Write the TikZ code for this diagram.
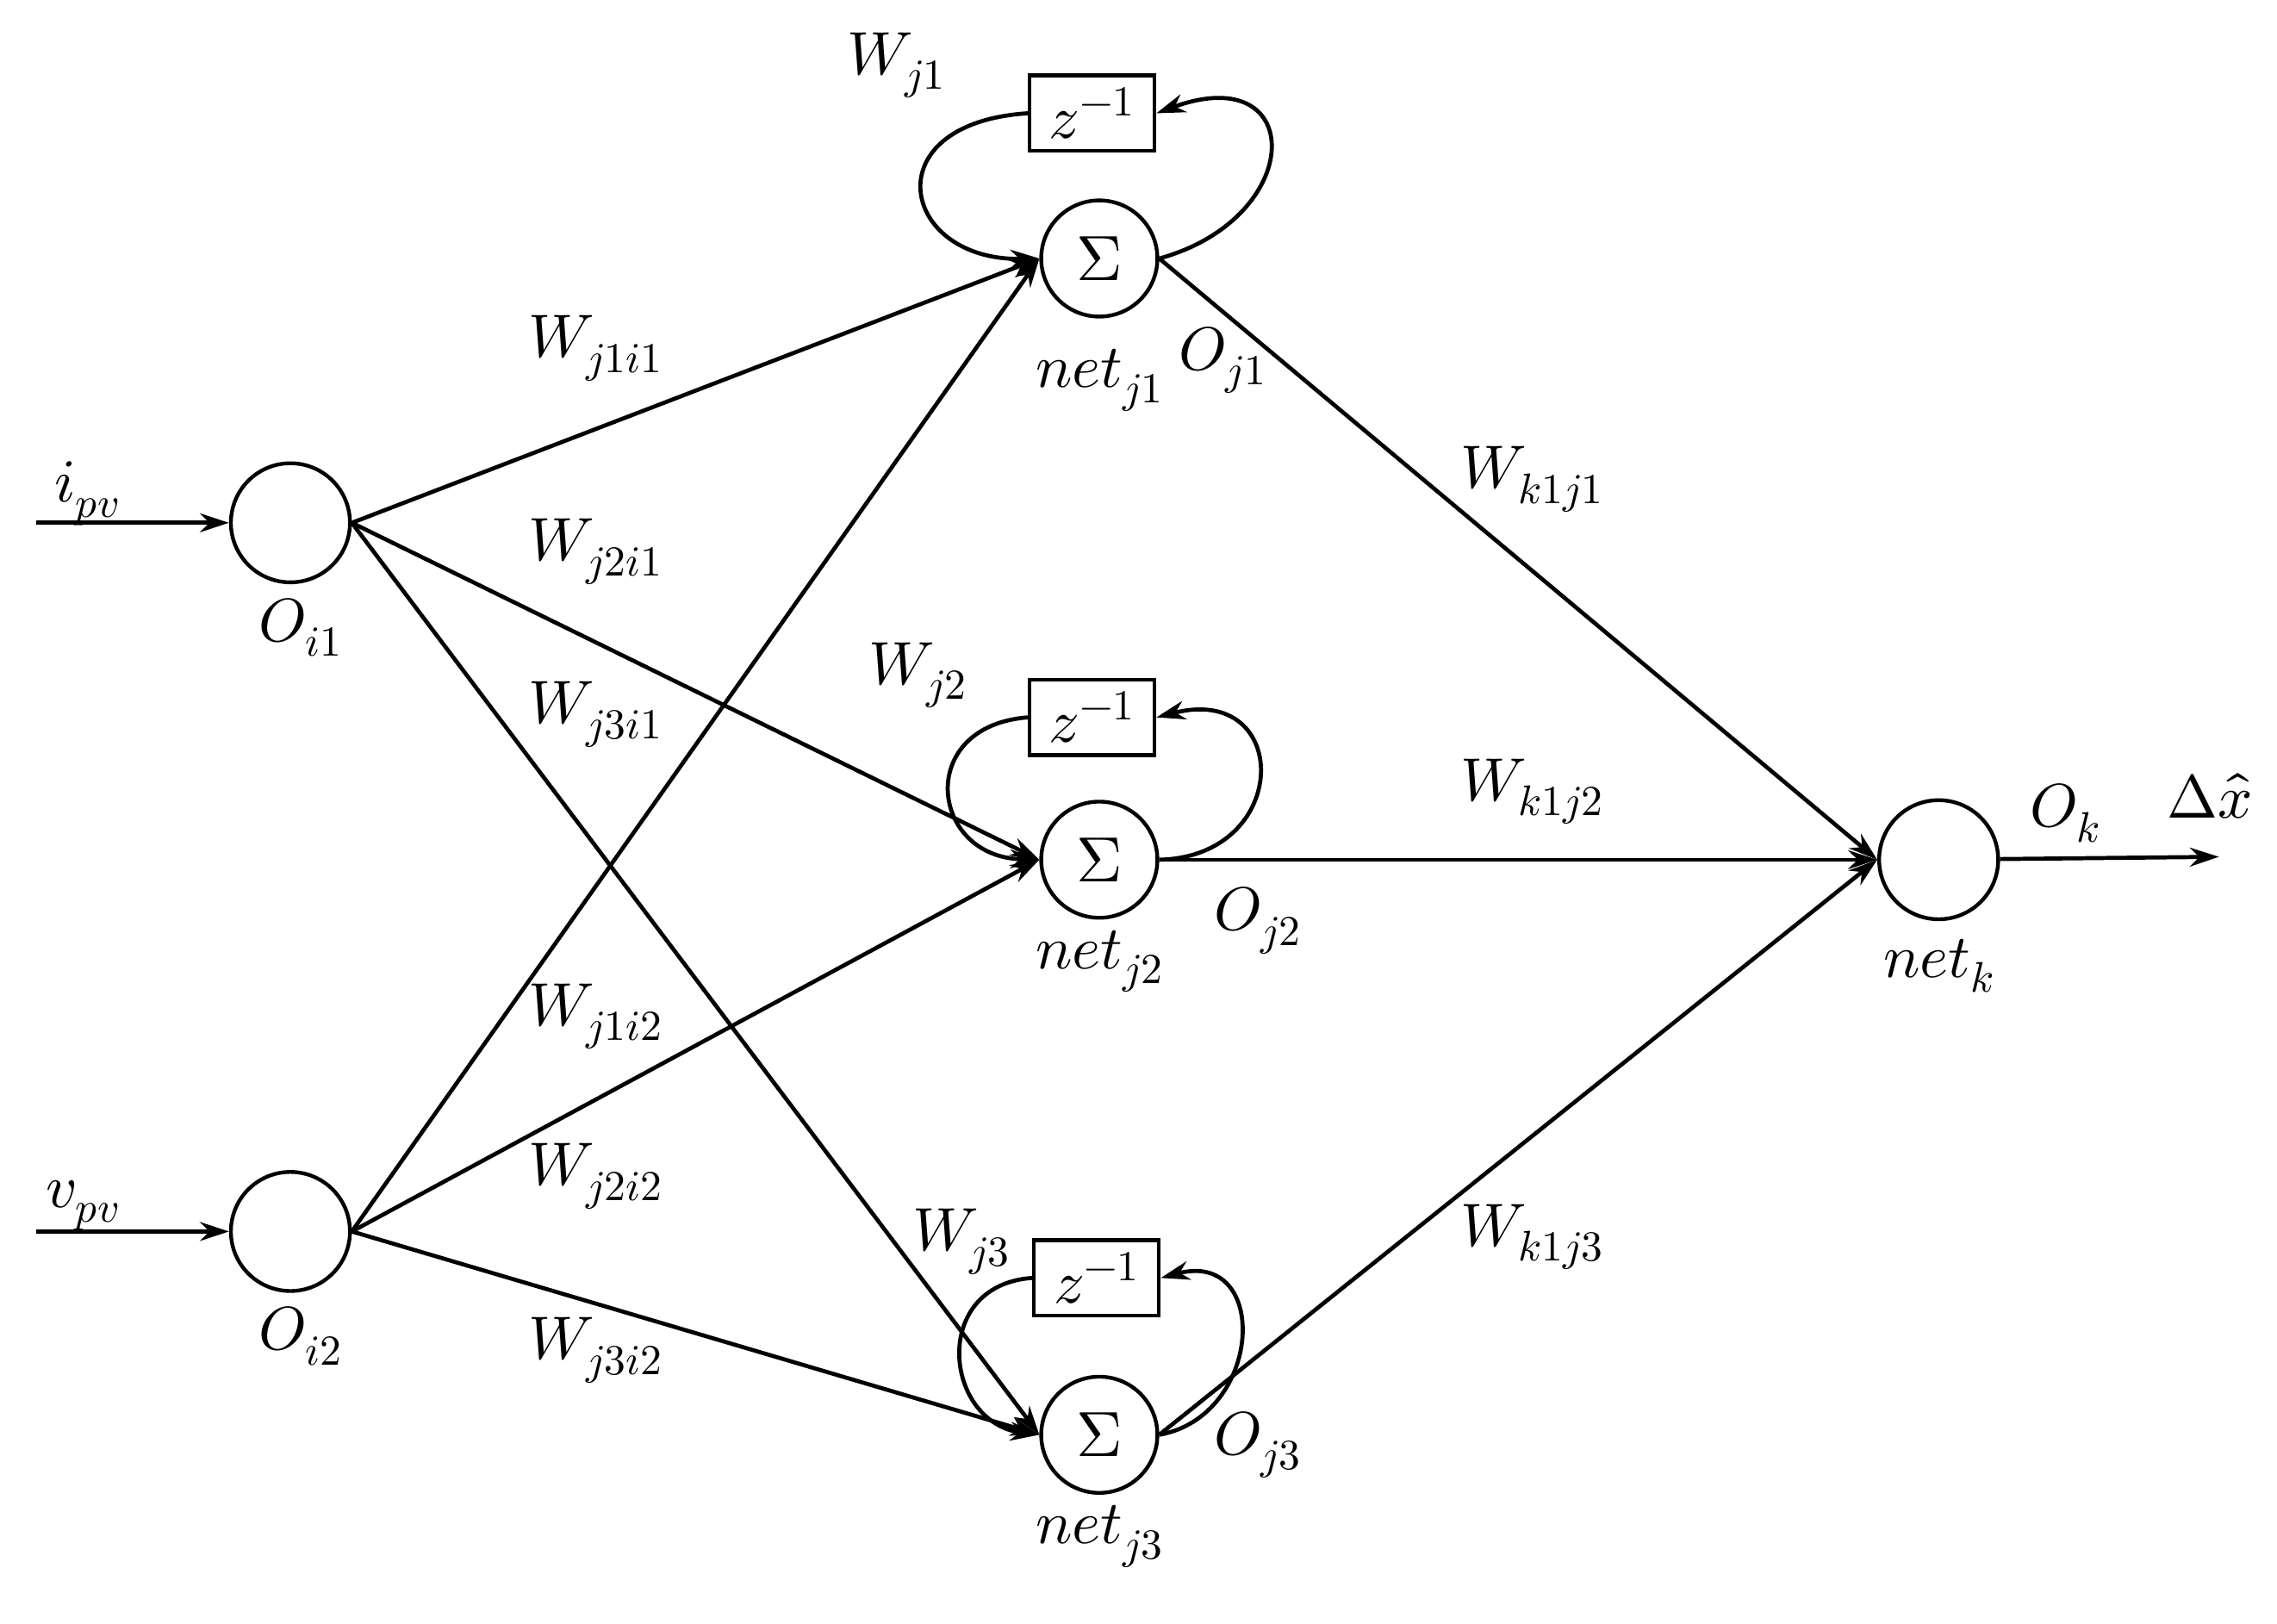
\documentclass[tikz,border=0pt]{standalone}
\usepackage{fontspec}
\setmainfont{Liberation Serif}
\usepackage{unicode-math}
\setmathfont{Latin Modern Math}
\usetikzlibrary{arrows.meta}
\begin{document}
\begin{tikzpicture}[x=1pt,y=-1pt,
  neu/.style={circle,draw,line width=2.6pt,minimum size=82pt,inner sep=0pt},
  hid/.style={circle,draw,line width=2.6pt,minimum size=80pt,inner sep=0pt,font=\fontsize{44}{44}\selectfont},
  zb/.style={draw,line width=2.6pt,minimum width=86pt,minimum height=52pt,inner sep=0pt,font=\fontsize{42}{42}\selectfont},
  ar/.style={line width=2.8pt,-{Stealth[length=20pt,width=13pt]}},
  lb/.style={font=\fontsize{42}{42}\selectfont,inner sep=0pt}]
\useasboundingbox (0,0) rectangle (1568,1118);
\node[neu] (i1) at (200,360) {};
\node[neu] (i2) at (200,848) {};
\node[hid] (j1) at (757,178) {$\Sigma$};
\node[hid] (j2) at (757,592) {$\Sigma$};
\node[hid] (j3) at (757,988) {$\Sigma$};
\node[neu] (k) at (1335,592) {};
\node[zb] (z1) at (752,78) {$z^{-1}$};
\node[zb] (z2) at (752,494) {$z^{-1}$};
\node[zb] (z3) at (755,880) {$z^{-1}$};
\coordinate (in1) at (25,360);
\coordinate (in2) at (25,848);
\coordinate (out) at (1528,590);
\draw[ar] (in1) -- (i1);
\draw[ar] (in2) -- (i2);
\foreach \a in {i1,i2}\foreach \b in {j1,j2,j3}{\draw[ar] (\a.east) -- (\b.west);}
\foreach \b in {j1,j2,j3}{\draw[ar] (\b.east) -- (k.west);}
\draw[ar] (k) -- (out);
% loops
\draw[ar] (j1.east) .. controls (900,150) and (900,40) .. (z1.east);
\draw[ar] (z1.west) .. controls (600,85) and (620,180) .. (j1.west);
\draw[ar] (j2.east) .. controls (890,590) and (890,470) .. (z2.east);
\draw[ar] (z2.west) .. controls (630,500) and (640,590) .. (j2.west);
\draw[ar] (j3.east) .. controls (870,975) and (875,860) .. (z3.east);
\draw[ar] (z3.west) .. controls (640,885) and (650,980) .. (j3.west);
% labels
\node[lb] (l1) at (60,340) {$i_{pv}$};
\node[lb] (l2) at (57,830) {$v_{pv}$};
\node[lb] (l3) at (207,432) {$O_{i1}$};
\node[lb] (l4) at (207,920) {$O_{i2}$};
\node[lb] (l5) at (410,240) {$W_{j1i1}$};
\node[lb] (l6) at (410,380) {$W_{j2i1}$};
\node[lb] (l7) at (410,492) {$W_{j3i1}$};
\node[lb] (l8) at (410,700) {$W_{j1i2}$};
\node[lb] (l9) at (410,810) {$W_{j2i2}$};
\node[lb] (l10) at (410,930) {$W_{j3i2}$};
\node[lb] (l11) at (617,45) {$W_{j1}$};
\node[lb] (l12) at (632,465) {$W_{j2}$};
\node[lb] (l13) at (662,855) {$W_{j3}$};
\node[lb] (l14) at (757,262) {$net_{j1}$};
\node[lb] (l15) at (842,248) {$O_{j1}$};
\node[lb] (l16) at (757,662) {$net_{j2}$};
\node[lb] (l17) at (866,634) {$O_{j2}$};
\node[lb] (l18) at (757,1058) {$net_{j3}$};
\node[lb] (l19) at (866,995) {$O_{j3}$};
\node[lb] (l20) at (1055,330) {$W_{k1j1}$};
\node[lb] (l21) at (1055,545) {$W_{k1j2}$};
\node[lb] (l22) at (1055,852) {$W_{k1j3}$};
\node[lb] (l23) at (1335,665) {$net_{k}$};
\node[lb] (l24) at (1422,560) {$O_{k}$};
\node[lb] (l25) at (1522,548) {$\Delta\hat{x}$};
\end{tikzpicture}
\end{document}
